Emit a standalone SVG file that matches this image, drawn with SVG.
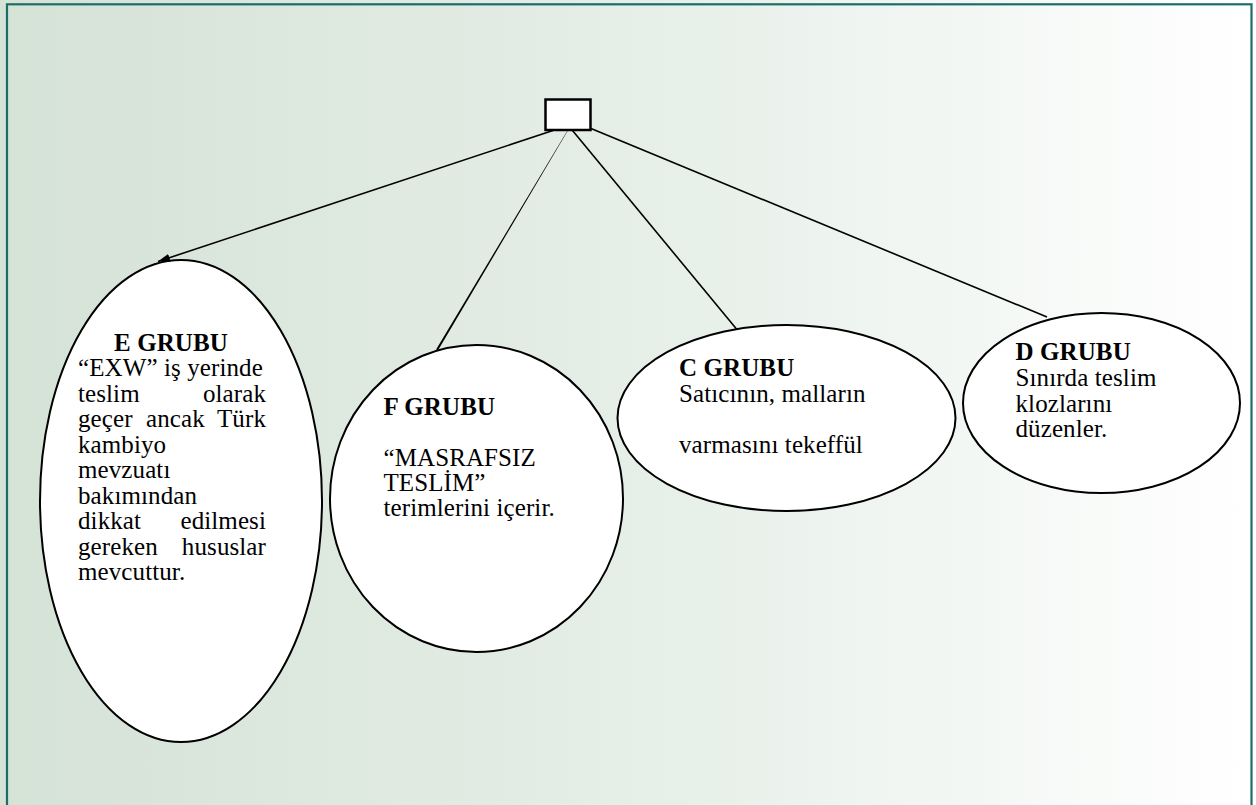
<svg xmlns="http://www.w3.org/2000/svg" width="1256" height="805" viewBox="0 0 1256 805">
  <defs>
    <linearGradient id="bg" x1="0" y1="0" x2="1" y2="0">
      <stop offset="0" stop-color="#d5e2d6"/>
      <stop offset="0.5" stop-color="#e5eee7"/>
      <stop offset="1" stop-color="#ffffff"/>
    </linearGradient>
    <marker id="arrow" markerUnits="userSpaceOnUse" markerWidth="14" markerHeight="10" refX="12" refY="4" orient="auto">
      <path d="M0,0 L12,4 L0,8 z" fill="#000"/>
    </marker>
  </defs>
  <style>
    .node { fill: #ffffff; stroke: #000000; stroke-width: 2; }
    .conn { stroke: #000000; stroke-width: 1.6; fill: none; }
    text { font-family: "Liberation Serif", "Times New Roman", serif; font-size: 25px; fill: #000; letter-spacing: 0.1px; }
    .b { font-weight: bold; }
  </style>
  <rect x="0" y="0" width="1256" height="805" fill="url(#bg)"/>
  <rect x="7" y="4.3" width="1244.5" height="820" fill="none" stroke="#1b6e67" stroke-width="2.2"/>

  <g id="top">
    <rect x="545.5" y="99.5" width="45" height="30.5" fill="#ffffff" stroke="#000" stroke-width="2.5"/>
  </g>

  <g id="e-grubu">
    <ellipse class="node" cx="181" cy="501" rx="141" ry="241"/>
    <text class="b" x="171" y="350.5" text-anchor="middle">E GRUBU</text>
    <text x="78" y="376">“EXW” iş yerinde</text>
    <text x="78" y="401.5">teslim</text>
    <text x="266" y="401.5" text-anchor="end">olarak</text>
    <text x="78" y="427">geçer</text>
    <text x="146" y="427">ancak</text>
    <text x="266" y="427" text-anchor="end">Türk</text>
    <text x="78" y="452.5">kambiyo</text>
    <text x="78" y="478">mevzuatı</text>
    <text x="78" y="503.5">bakımından</text>
    <text x="78" y="529">dikkat</text>
    <text x="266" y="529" text-anchor="end">edilmesi</text>
    <text x="78" y="554.5">gereken</text>
    <text x="266" y="554.5" text-anchor="end">hususlar</text>
    <text x="78" y="580">mevcuttur.</text>
  </g>

  <g id="f-grubu">
    <ellipse class="node" cx="476.5" cy="498.5" rx="146.5" ry="153.5"/>
    <text class="b" x="383.5" y="415">F GRUBU</text>
    <text x="383.5" y="466">“MASRAFSIZ</text>
    <text x="383.5" y="491">TESLİM”</text>
    <text x="383.5" y="516">terimlerini içerir.</text>
  </g>

  <g id="c-grubu">
    <ellipse class="node" cx="786.5" cy="418" rx="169" ry="93"/>
    <text class="b" x="679" y="375.5">C GRUBU</text>
    <text x="679" y="401.5">Satıcının, malların</text>
    <text x="679" y="453">varmasını tekeffül</text>
  </g>

  <g id="d-grubu">
    <ellipse class="node" cx="1101.5" cy="403" rx="138.5" ry="90"/>
    <text class="b" x="1015.5" y="360">D GRUBU</text>
    <text x="1015.5" y="386">Sınırda teslim</text>
    <text x="1015.5" y="411.5">klozlarını</text>
    <text x="1015.5" y="437">düzenler.</text>
  </g>

  <g id="connectors">
    <line class="conn" x1="553" y1="130.5" x2="158" y2="261.5" marker-end="url(#arrow)"/>
    <polygon points="567.9,130.6 567.5,130.4 436.1,349.4 437.9,350.6" fill="#000"/>
    <line class="conn" x1="572.5" y1="130.5" x2="736.5" y2="329"/>
    <line class="conn" x1="591" y1="128.5" x2="1047" y2="317"/>
  </g>
</svg>
